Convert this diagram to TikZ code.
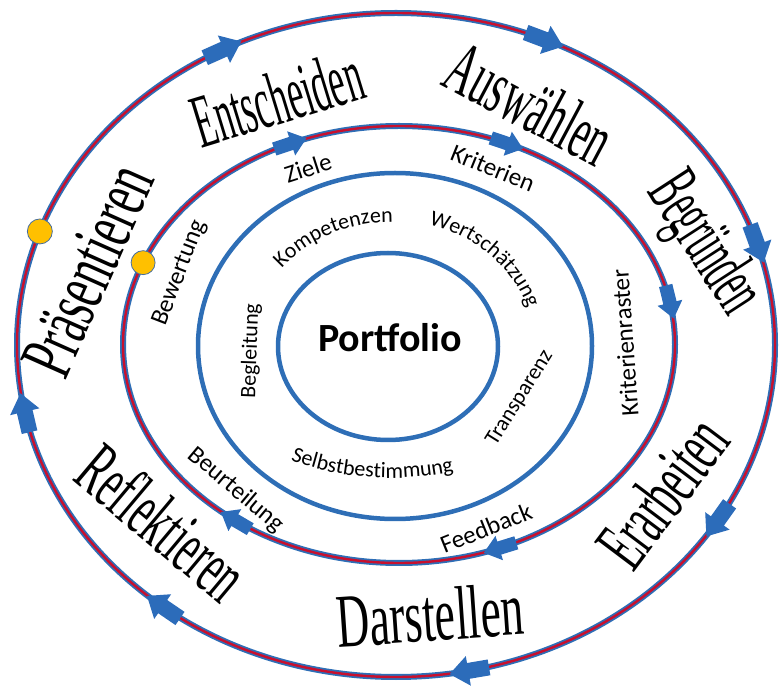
\documentclass[tikz,border=0pt]{standalone}
\usepackage{fontspec}
\setmainfont{Liberation Serif}
\newfontfamily\labfont{Carlito}
\newcommand{\bw}[2]{{\addfontfeature{FakeStretch=#1}#2}}
\usetikzlibrary{decorations.text}
\definecolor{ringblue}{RGB}{46,110,182}
\definecolor{arrowblue}{RGB}{44,108,186}
\definecolor{ringred}{RGB}{200,16,46}
\definecolor{dotyellow}{RGB}{255,192,0}
\definecolor{dotedge}{RGB}{70,110,160}
\newcommand{\cyclearrow}[6]{%
  \pgfmathsetmacro{\arrX}{#1+#3*cos(#5)}%
  \pgfmathsetmacro{\arrY}{#2+#4*sin(#5)}%
  \pgfmathsetmacro{\arrA}{atan2(-(#4)*cos(#5),(#3)*sin(#5))}%
  \fill[arrowblue,shift={(\arrX,\arrY)},rotate=\arrA,scale=#6]
    (-21,-8) -- (0,-8) -- (0,-15) -- (19,0) -- (0,15) -- (0,8) -- (-21,8) -- cycle;}
\begin{document}
\begin{tikzpicture}[x=1pt,y=1pt,
  big/.style={font=\fontsize{76}{76}\selectfont, inner sep=0pt},
  lab/.style={font=\labfont\fontsize{25}{25}\selectfont, inner sep=0pt},
  ilab/.style={font=\labfont\fontsize{22}{22}\selectfont, inner sep=0pt},
  ring/.style={draw=ringblue, line width=4.5},
  cyc/.style={draw=ringblue, line width=1.8, double=ringred, double distance=2.4},
  yellowdot/.style={circle, fill=dotyellow, draw=dotedge, line width=0.8, minimum size=25, inner sep=0pt}]
\useasboundingbox (0,0) rectangle (779,691);
% rings
\draw[cyc] (396,346) ellipse [x radius=379, y radius=332];
\draw[cyc] (399,346.5) ellipse [x radius=276, y radius=218.5];
\draw[ring] (395,345) ellipse [x radius=197, y radius=173];
\draw[ring] (388,344.5) ellipse [x radius=110, y radius=93.5];
% arrows outer
\cyclearrow{396}{346}{379}{332}{117}{1}
\cyclearrow{396}{346}{379}{332}{66.8}{1}
\cyclearrow{396}{346}{379}{332}{17.6}{1}
\cyclearrow{396}{346}{379}{332}{-32}{1}
\cyclearrow{396}{346}{379}{332}{-79}{1}
\cyclearrow{396}{346}{379}{332}{-128}{1}
\cyclearrow{396}{346}{379}{332}{-168.4}{1}
% arrows inner
\cyclearrow{399}{346.5}{276}{218.5}{113}{0.85}
\cyclearrow{399}{346.5}{276}{218.5}{66.8}{0.85}
\cyclearrow{399}{346.5}{276}{218.5}{11}{0.85}
\cyclearrow{399}{346.5}{276}{218.5}{-68.7}{0.85}
\cyclearrow{399}{346.5}{276}{218.5}{-126.5}{0.85}
% dots
\node[yellowdot] (dotouter) at ([shift={(160:379 and 332)}]396,346) {};
\node[yellowdot, minimum size=24] (dotinner) at ([shift={(158:276 and 218.5)}]399,346.5) {};
% big words
\node[big, rotate=17] (entscheiden) at (277,593) {\bw{0.47}{Entscheiden}};
\node[big, rotate=-28] (auswaehlen) at (530,588) {\bw{0.52}{Auswählen}};
\node[big, rotate=-57] (begruenden) at (703,446) {\bw{0.45}{Begründen}};
\node[big, rotate=53] (erarbeiten) at (662,199) {\bw{0.52}{Erarbeiten}};
\node[big, rotate=4] (darstellen) at (430,76) {\bw{0.60}{Darstellen}};
\node[big, rotate=-40] (reflektieren) at (163,169) {\bw{0.52}{Reflektieren}};
\node[big, rotate=66] (praesentieren) at (88,421) {\bw{0.59}{Präsentieren}};
% ring labels
\node[lab, rotate=18] (ziele) at (308,523) {Ziele};
\node[lab, rotate=-22] (kriterien) at (493,523) {Kriterien};
\node[lab, rotate=94] (kraster) at (625,348) {Kriterienraster};
\node[lab, rotate=22] (feedback) at (486,163) {Feedback};
\node[lab, rotate=-40] (beurteilung) at (236,201) {Beurteilung};
\node[lab, rotate=69] (bewertung) at (180,418) {Bewertung};
\node[ilab, rotate=88] (begleitung) at (251,340) {Begleitung};
\node[ilab, rotate=58] (transparenz) at (520,293) {Transparenz};
\path[decorate, decoration={text along path, text align=center,
  text={|\labfont\fontsize{22}{22}\selectfont|Kompetenzen}}]
  ([shift={(160:140 and 124)}]391,345) arc[start angle=160, end angle=72, x radius=140, y radius=124];
\path[decorate, decoration={text along path, text align=center,
  text={|\labfont\fontsize{22}{22}\selectfont|Wertschätzung}}]
  ([shift={(90:143 and 126)}]391,345) arc[start angle=90, end angle=0, x radius=143, y radius=126];
\path[decorate, decoration={text along path, text align=center,
  text={|\labfont\fontsize{22}{22}\selectfont|Selbstbestimmung}}]
  ([shift={(-150:200 and 132)}]391,345) arc[start angle=-150, end angle=-44, x radius=200, y radius=132];
\node[font=\labfont\bfseries\fontsize{40}{40}\selectfont, inner sep=0pt] (portfolio) at (390,353) {Portfolio};
\end{tikzpicture}
\end{document}
